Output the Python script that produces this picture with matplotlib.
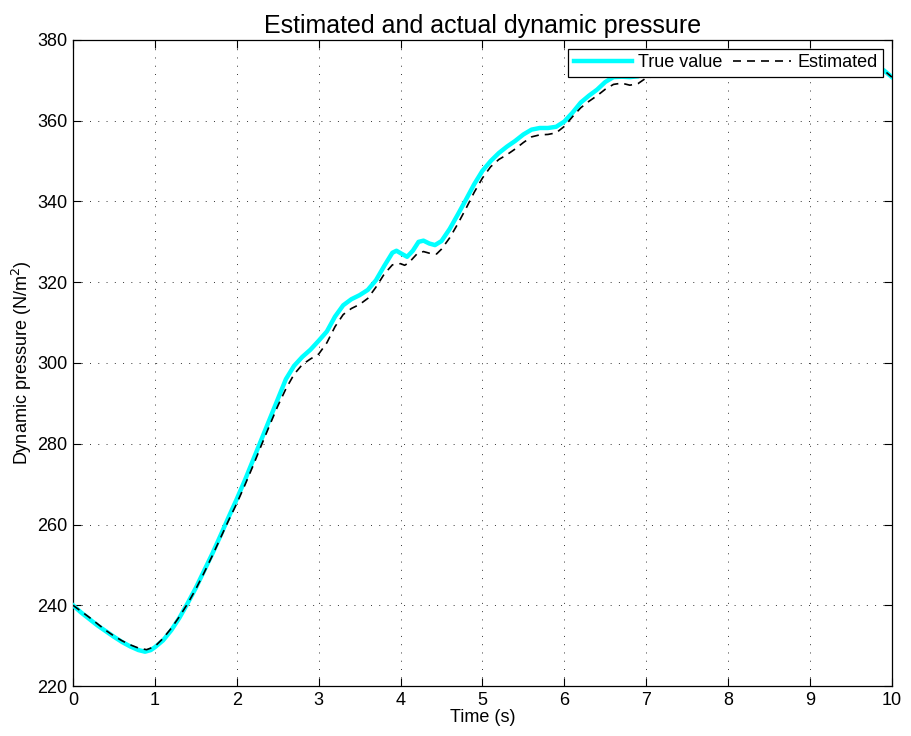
import matplotlib
matplotlib.use("Agg")
import matplotlib.pyplot as plt

plt.rcParams['font.family'] = ['Liberation Sans', 'DejaVu Sans']

t_true = [0, 0.1, 0.2, 0.3, 0.4, 0.5, 0.6, 0.7, 0.8, 0.88, 0.95, 1.0, 1.1, 1.2, 1.3, 1.4,
          1.5, 1.6, 1.7, 1.8, 1.9, 2.0, 2.1, 2.2, 2.3, 2.4, 2.5, 2.6, 2.7, 2.8, 2.9, 3.0,
          3.1, 3.2, 3.3, 3.4, 3.5, 3.6, 3.7, 3.8, 3.9, 3.95, 4.0, 4.08, 4.15, 4.22, 4.28,
          4.35, 4.42, 4.5, 4.6, 4.7, 4.8, 4.9, 5.0, 5.1, 5.2, 5.3, 5.4, 5.5, 5.6, 5.7, 5.8,
          5.9, 6.0, 6.1, 6.2, 6.3, 6.4, 6.5, 6.6, 6.7, 6.8, 6.9, 7.0, 7.5, 8.0, 8.5, 9.0,
          9.5, 9.9, 10.0]
true_value = [240.0, 238.2, 236.6, 235.0, 233.6, 232.2, 230.9, 229.8, 228.9, 228.5, 228.9,
              229.6, 231.3, 233.8, 236.9, 240.5, 244.3, 248.5, 252.7, 257.2, 261.8, 266.3,
              271.0, 276.0, 281.0, 286.0, 291.0, 296.0, 299.3, 301.5, 303.3, 305.5, 307.8,
              311.5, 314.3, 315.8, 316.8, 318.1, 320.5, 324.0, 327.3, 327.8, 327.2, 326.3,
              327.8, 330.0, 330.3, 329.6, 329.2, 330.2, 333.2, 336.8, 340.5, 344.3, 347.6,
              350.0, 352.0, 353.6, 355.0, 356.6, 357.8, 358.2, 358.2, 358.5, 359.8, 362.0,
              364.5, 366.2, 367.7, 369.6, 370.8, 370.9, 370.8, 371.0, 371.8, 372.8, 373.3,
              373.5, 373.5, 373.3, 372.5, 370.8]

t_est = [0, 0.1, 0.2, 0.3, 0.4, 0.5, 0.6, 0.7, 0.8, 0.9, 1.0, 1.1, 1.2, 1.3, 1.4, 1.5,
         1.6, 1.7, 1.8, 1.9, 2.0, 2.1, 2.2, 2.3, 2.4, 2.5, 2.6, 2.7, 2.8, 2.9, 3.0, 3.1,
         3.2, 3.3, 3.4, 3.5, 3.6, 3.7, 3.8, 3.9, 4.0, 4.05, 4.1, 4.2, 4.28, 4.35, 4.44,
         4.5, 4.6, 4.7, 4.8, 4.9, 5.0, 5.1, 5.2, 5.3, 5.4, 5.5, 5.6, 5.7, 5.8, 5.9, 6.0,
         6.1, 6.2, 6.3, 6.4, 6.5, 6.6, 6.7, 6.8, 6.9, 7.0, 7.5, 8.0, 8.5, 9.0, 9.5, 9.9,
         10.0]
estimated = [240.0, 238.5, 237.0, 235.4, 233.8, 232.4, 231.2, 230.2, 229.4, 229.0, 229.8,
             231.8, 234.3, 237.2, 240.4, 244.0, 248.0, 252.2, 256.6, 261.0, 265.2, 269.8,
             274.6, 279.6, 284.5, 289.3, 293.6, 297.2, 299.6, 301.0, 302.2, 305.0, 309.0,
             312.0, 313.5, 314.5, 316.0, 318.8, 322.0, 324.3, 324.6, 324.2, 324.8, 327.0,
             327.6, 327.2, 327.0, 328.2, 331.0, 334.5, 338.3, 342.3, 345.8, 348.6, 350.4,
             351.6, 353.0, 354.6, 356.0, 356.5, 356.6, 357.0, 358.6, 361.0, 363.2, 364.8,
             366.2, 367.8, 369.0, 369.3, 368.8, 369.2, 370.6, 372.3, 373.0, 373.4, 373.5,
             373.3, 372.5, 370.8]

x_ticks = list(range(0, 11))
y_ticks = list(range(220, 381, 20))

fig = plt.figure(figsize=(9.12, 7.36), dpi=100)
ax = fig.add_axes([0.080, 0.0679, 0.898, 0.8778])

ax.plot(t_true, true_value, color='#00FFFF', lw=3.2, label='True value', zorder=3)
ax.plot(t_est, estimated, color='black', lw=1.2, dashes=(4.8, 3.6), label='Estimated', zorder=4)

ax.set_xlim(0, 10)
ax.set_ylim(220, 380)
ax.set_xticks(x_ticks)
ax.set_yticks(y_ticks)
ax.tick_params(direction='in', top=True, right=True, length=6, width=0.8,
               labelsize=13, pad=4)
for s in ax.spines.values():
    s.set_linewidth(0.9)
ax.grid(True, color='#333333', linestyle=(0, (1, 7.5)), lw=0.7)

ax.set_title('Estimated and actual dynamic pressure', fontsize=18, pad=5)
ax.set_xlabel('Time (s)', fontsize=13, labelpad=0)
ax.set_ylabel('Dynamic pressure (N/m$^2$)', fontsize=13, labelpad=2)

leg = ax.legend(loc='upper right', ncol=2, fontsize=13, frameon=True, fancybox=False,
                borderpad=0.3, handlelength=3.2, columnspacing=0.6, handletextpad=0.35,
                borderaxespad=0.5)
leg.get_frame().set_edgecolor('black')
leg.get_frame().set_linewidth(0.9)
leg.get_frame().set_alpha(1)
leg.set_zorder(10)

fig.savefig('out.png', dpi=100)
